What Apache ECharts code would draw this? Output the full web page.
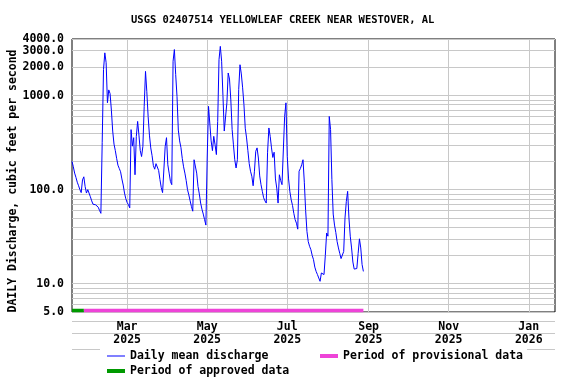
<!DOCTYPE html>
<html><head><meta charset="utf-8">
<script src="https://cdn.jsdelivr.net/npm/echarts@6/dist/echarts.min.js"></script>
<style>html,body{margin:0;padding:0;background:#fff}#c{width:576px;height:384px}</style>
</head><body><div id="c"></div>
<script>
const chartTitle = 'USGS 02407514 YELLOWLEAF CREEK NEAR WESTOVER, AL';
const yAxisName = 'DAILY Discharge, cubic feet per second';
const startDate = '2025-01-18';
// daily mean discharge, cfs, one value per day from startDate
const discharge = [
  200, 175, 150, 135, 120, 110, 100, 93, 127, 137,
  108, 92, 100, 96, 84, 76, 70, 69, 69, 68,
  65, 60, 56, 316, 1890, 2850, 2240, 840, 1150, 1050,
  700, 420, 305, 260, 215, 182, 168, 155, 130, 112,
  92, 80, 73, 69, 64, 435, 290, 357, 144, 369,
  532, 380, 260, 225, 289, 769, 1810, 1100, 600, 380,
  278, 230, 180, 165, 189, 189, 160, 128, 105, 93,
  91, 289, 357, 184, 150, 122, 113, 2320, 3090, 1670,
  980, 430, 330, 280, 215, 175, 150, 125, 100, 88,
  76, 66, 59, 208, 200, 150, 108, 90, 72, 62,
  55, 48, 42, 217, 769, 769, 330, 260, 369, 300,
  236, 532, 2410, 3340, 2320, 1000, 420, 400, 838, 1740,
  1500, 900, 435, 300, 208, 170, 208, 1160, 2130, 1700,
  1210, 800, 450, 355, 260, 190, 157, 139, 110, 157,
  256, 278, 217, 140, 113, 96, 82, 76, 72, 250,
  453, 369, 278, 220, 250, 130, 104, 72, 144, 125,
  113, 108, 600, 838, 226, 130, 95, 78, 68, 56,
  48, 44, 38, 157, 168, 184, 208, 120, 60, 36,
  28, 25, 23, 20, 18, 15, 13.5, 12.5, 11.5, 10.6,
  13, 13.5, 12.5, 20, 34.6, 32, 600, 435, 128, 55,
  42, 35, 28, 24, 21, 18.5, 18, 22, 50, 75,
  96, 50, 32, 24, 17, 14.3, 14.5, 14.5, 21, 30,
  24, 16, 13.5
];
const yTickLabels = [5, 10, 100, 1000, 2000, 3000];
const yTopLabel = [4000];
const yGridValues = [5, 6, 7, 8, 9, 10, 20, 30, 40, 50, 60, 70, 80, 90, 100,
  200, 300, 400, 500, 600, 700, 800, 900, 1000, 2000, 3000, 4000];
const xTickDates = ['2025-03-01', '2025-05-01', '2025-07-01', '2025-09-01', '2025-11-01', '2026-01-01'];
const xRange = ['2025-01-18', '2026-01-21'];
const approvedPeriod = ['2025-01-18', '2025-01-27'];
const provisionalPeriod = ['2025-01-27', '2025-08-28'];
const periodLevel = 5.2;
const monthNames = ['Jan','Feb','Mar','Apr','May','Jun','Jul','Aug','Sep','Oct','Nov','Dec'];

const ts = s => new Date(s + 'T00:00:00Z').getTime();
const DAY = 86400000;
const t0 = ts(startDate);
const seriesData = discharge.map((v, i) => [t0 + i * DAY, v]);
const font = '"DejaVu Sans Mono", monospace';
const txt = (size) => ({ fontFamily: font, fontWeight: 'bold', fontSize: size, color: '#000' });
const gridColor = '#c8c8c8';
const yLabelFmt = v => Number(v).toFixed(1);

const chart = echarts.init(document.getElementById('c'), null, { renderer: 'canvas' });
const legendBase = { icon: 'rect', itemWidth: 18, selectedMode: false, padding: 0, textStyle: txt(11.5) };
chart.setOption({
  animation: false,
  backgroundColor: '#fff',
  title: { text: chartTitle, left: 131, top: 15, padding: 0, textStyle: txt(10.5) },
  grid: { left: 72, right: 21, top: 39, bottom: 72, containLabel: false, outerBoundsMode: 'none',
          show: true, borderColor: '#000', borderWidth: 1, backgroundColor: 'transparent' },
  xAxis: {
    type: 'value', min: ts(xRange[0]), max: ts(xRange[1]),
    axisLine: { show: false },
    axisTick: { show: false, customValues: xTickDates.map(ts) },
    axisLabel: {
      customValues: xTickDates.map(ts), hideOverlap: false,
      formatter: v => { const d = new Date(v); return monthNames[d.getUTCMonth()] + '\n' + d.getUTCFullYear(); },
      ...txt(11.5), lineHeight: 13, margin: 9
    },
    splitLine: { show: true, lineStyle: { color: gridColor, width: 1 } }
  },
  yAxis: [
    {
      type: 'log', logBase: 10, min: 5, max: 4000,
      name: yAxisName, nameLocation: 'middle', nameGap: 53, nameRotate: 90, nameMoveOverlap: false,
      nameTextStyle: { ...txt(11.5), padding: [0, 11, 0, 0] },
      axisLine: { show: false },
      axisTick: { show: false, customValues: yGridValues },
      axisLabel: { customValues: yTickLabels, formatter: yLabelFmt, ...txt(11.5),
                   margin: 8, hideOverlap: false, showMaxLabel: true, showMinLabel: true },
      splitLine: { show: true, lineStyle: { color: gridColor, width: 1 } }
    },
    {
      type: 'log', logBase: 10, min: 5, max: 4000, position: 'left', offset: 0,
      axisLine: { show: false },
      axisTick: { show: false, customValues: yTopLabel },
      axisLabel: { customValues: yTopLabel, formatter: yLabelFmt, ...txt(11.5),
                   margin: 8, hideOverlap: false, showMaxLabel: true, showMinLabel: true },
      splitLine: { show: false }
    }
  ],
  legend: [
    { ...legendBase, data: ['Daily mean discharge'], left: 107, top: 350, itemHeight: 1 },
    { ...legendBase, data: ['Period of provisional data'], left: 320, top: 350, itemHeight: 4 },
    { ...legendBase, data: ['Period of approved data'], left: 107, top: 365, itemHeight: 4 }
  ],
  graphic: [
    { type: 'line', shape: { x1: 72, y1: 321.5, x2: 555, y2: 321.5 }, style: { stroke: gridColor, lineWidth: 1 } },
    { type: 'line', shape: { x1: 72, y1: 333.5, x2: 555, y2: 333.5 }, style: { stroke: gridColor, lineWidth: 1 } },
    { type: 'line', shape: { x1: 72, y1: 349.5, x2: 100, y2: 349.5 }, style: { stroke: gridColor, lineWidth: 1 } },
    { type: 'line', shape: { x1: 527, y1: 349.5, x2: 555, y2: 349.5 }, style: { stroke: gridColor, lineWidth: 1 } }
  ],
  series: [
    {
      name: 'Period of provisional data', type: 'line', showSymbol: false, silent: true,
      data: provisionalPeriod.map(d => [ts(d), periodLevel]),
      lineStyle: { color: '#ee44d8', width: 3.5 }, itemStyle: { color: '#ee44d8' }
    },
    {
      name: 'Period of approved data', type: 'line', showSymbol: false, silent: true,
      data: approvedPeriod.map(d => [ts(d), periodLevel]),
      lineStyle: { color: '#009900', width: 3.5 }, itemStyle: { color: '#009900' }
    },
    {
      name: 'Daily mean discharge', type: 'line', showSymbol: false, z: 5,
      data: seriesData,
      lineStyle: { color: '#0000ff', width: 1 }, itemStyle: { color: '#0000ff' }
    }
  ]
});
</script></body></html>
